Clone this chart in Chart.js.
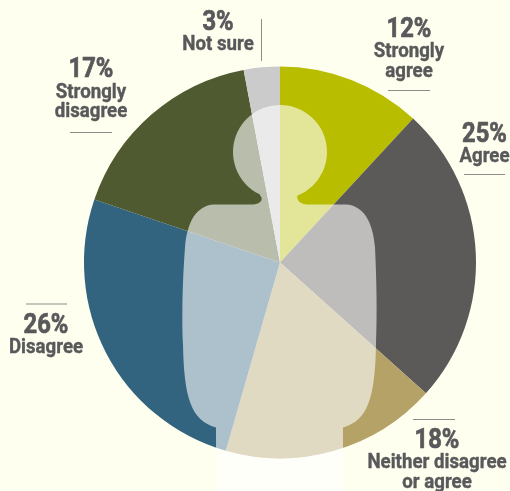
<!DOCTYPE html>
<html>
<head>
<meta charset="utf-8">
<style>
  html, body { margin: 0; padding: 0; background: #FFFFEF; }
  canvas { display: block; }
</style>
<script src="https://cdn.jsdelivr.net/npm/chart.js@4"></script>
</head>
<body>
<canvas id="survey" width="510" height="491"></canvas>
<script>
const categories = ["Strongly agree", "Agree", "Neither disagree or agree", "Disagree", "Strongly disagree", "Not sure"];
const percents = [12, 25, 18, 26, 17, 3];
const sliceColors = ["#B9BD00", "#5C5A58", "#B5A267", "#33647F", "#4F5A30", "#CBCBCB"];

// wrapped category text, same order as categories
const labelLines = [["Strongly", "agree"], ["Agree"], ["Neither disagree", "or agree"], ["Disagree"], ["Strongly", "disagree"], ["Not sure"]];

// label placement: centre x, baselines (percent first), rule as x1,y1,x2,y2
const labelLayout = [
    { x: 409, y: [37, 57, 77], rule: [388, 90.5, 430, 90.5] },
    { x: 484.5, y: [142, 162], rule: [464, 174.5, 505, 174.5] },
    { x: 437, y: [448, 468, 488], rule: [413, 419.5, 455, 419.5] },
    { x: 46, y: [333, 353], rule: [26, 304, 67, 304] },
    { x: 91, y: [77, 98, 117], rule: [70, 132.5, 112, 132.5] },
    { x: 218, y: [30, 50], rule: [261.5, 19, 261.5, 61] },
];

const textColor = "#59595B";
const fontName = '"Roboto", sans-serif';

function drawCondensed(ctx, text, x, y, squeeze) {
    ctx.save();
    ctx.translate(x, y);
    ctx.scale(squeeze, 1);
    ctx.fillText(text, 0, 0);
    ctx.strokeText(text, 0, 0);
    ctx.restore();
}

// the translucent person on top of the pie, offsets from pie centre
const personPlugin = {
    id: "person",
    afterDatasetsDraw(chart) {
        const arc = chart.getDatasetMeta(0).data[0];
        const ctx = chart.ctx;
        const bottom = chart.height - arc.y;
        ctx.save();
        ctx.translate(arc.x, arc.y);
        ctx.fillStyle = "rgba(255, 255, 255, 0.6)";
        ctx.beginPath();
        ctx.arc(0, -110.5, 47, Math.PI * 0.64, Math.PI * 0.38, false);
        ctx.bezierCurveTo(17, -65, 17, -59, 27, -58);
        ctx.lineTo(66, -58);
        ctx.bezierCurveTo(84, -57, 93, -40, 95, -15);
        ctx.bezierCurveTo(97, 25, 97, 60, 96, 82);
        ctx.bezierCurveTo(95, 135, 88, 158, 63, 165);
        ctx.lineTo(63, bottom);
        ctx.lineTo(-64, bottom);
        ctx.lineTo(-64, 165);
        ctx.bezierCurveTo(-89, 158, -96, 135, -97, 82);
        ctx.bezierCurveTo(-98, 60, -98, 25, -95, -15);
        ctx.bezierCurveTo(-93, -40, -84, -57, -66, -58);
        ctx.lineTo(-27, -58);
        ctx.bezierCurveTo(-17, -59, -17, -65, -20, -67);
        ctx.closePath();
        ctx.fill();
        ctx.restore();
    },
};

const labelPlugin = {
    id: "sliceLabels",
    afterDraw(chart) {
        const ctx = chart.ctx;
        ctx.save();
        ctx.textAlign = "center";
        ctx.textBaseline = "alphabetic";
        ctx.fillStyle = textColor;
        ctx.lineJoin = "round";
        labelLayout.forEach((place, i) => {
            ctx.strokeStyle = textColor;
            ctx.font = `bold 27px ${fontName}`;
            ctx.lineWidth = 0.7;
            drawCondensed(ctx, `${percents[i]}%`, place.x, place.y[0], 0.88);
            ctx.font = `bold 21px ${fontName}`;
            ctx.lineWidth = 0.4;
            labelLines[i].forEach((line, n) => {
                drawCondensed(ctx, line, place.x, place.y[n + 1], 0.89);
            });
            const r = place.rule;
            ctx.strokeStyle = "#8C8B88";
            ctx.lineWidth = 1;
            ctx.beginPath();
            ctx.moveTo(r[0], r[1]);
            ctx.lineTo(r[2], r[3]);
            ctx.stroke();
        });
        ctx.restore();
    },
};

new Chart(document.getElementById("survey"), {
    type: "pie",
    data: {
        labels: categories,
        datasets: [
            {
                data: percents,
                backgroundColor: sliceColors,
                borderWidth: 0,
            },
        ],
    },
    options: {
        responsive: false,
        animation: false,
        layout: { padding: { left: 84, right: 34, top: 66.5, bottom: 32.5 } },
        plugins: {
            legend: { display: false },
            tooltip: { enabled: false },
            title: { display: false },
        },
    },
    plugins: [personPlugin, labelPlugin],
});
</script>
</body>
</html>
